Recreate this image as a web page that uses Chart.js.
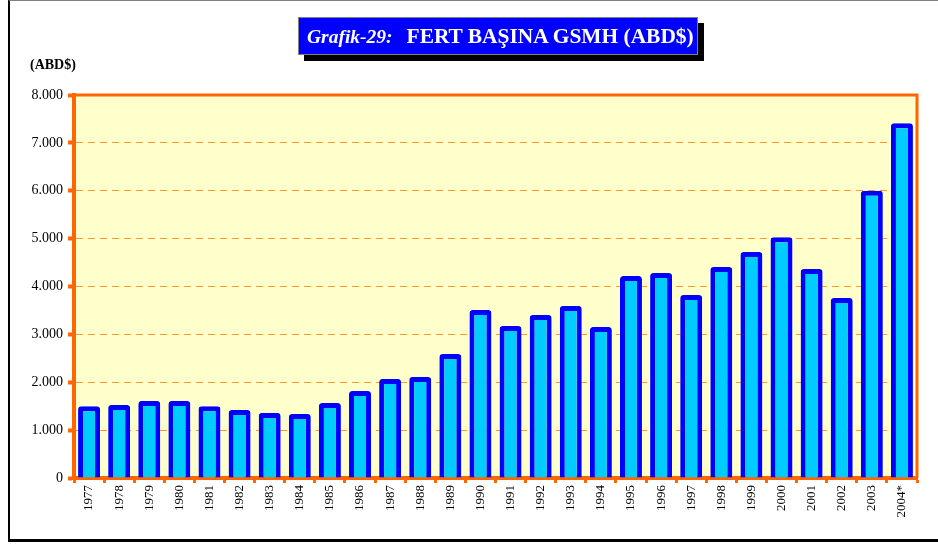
<!DOCTYPE html>
<html>
<head>
<meta charset="utf-8">
<script src="https://cdn.jsdelivr.net/npm/chart.js@4"></script>
<style>
  body { margin: 0; background: #fff; }
  #wrap { position: relative; width: 938px; height: 544px; overflow: hidden; }
  #chart { position: absolute; left: 0; top: 0; }
  #frame {
    position: absolute; left: 8px; top: 0; width: 960px; height: 538px;
    border-left: 2px solid #000; border-bottom: 3px solid #000; border-top: 1px solid #808080;
  }
  #title {
    position: absolute; left: 298px; top: 17px; width: 390px; height: 36px;
    background: #0000FF; border: 1px solid #808080; box-shadow: 6px 6px 0 #000;
    color: #fff; font-family: "Liberation Serif", serif; font-weight: bold;
    white-space: nowrap; line-height: 37px; padding-left: 8px; box-sizing: content-box;
  }
  #title .lead { font-style: italic; font-size: 19.5px; margin-right: 14px; }
  #title .rest { font-size: 21.4px; }
  #unit {
    position: absolute; left: 30px; top: 57px;
    font-family: "Liberation Serif", serif; font-weight: bold; font-size: 14px;
  }
</style>
</head>
<body>
<div id="wrap">
  <div id="frame"></div>
  <canvas id="chart" width="938" height="544"></canvas>
  <div id="title"><span class="lead">Grafik-29:</span><span class="rest">FERT BAŞINA GSMH (ABD$)</span></div>
  <div id="unit">(ABD$)</div>
</div>
<script>
var years = ['1977', '1978', '1979', '1980', '1981', '1982', '1983', '1984', '1985', '1986',
    '1987', '1988', '1989', '1990', '1991', '1992', '1993', '1994', '1995', '1996',
    '1997', '1998', '1999', '2000', '2001', '2002', '2003', '2004*']

var gnpPerCapita = [1500, 1525, 1610, 1610, 1500, 1420, 1360, 1335, 1565, 1815,
    2070, 2110, 2590, 3510, 3175, 3405, 3595, 3155, 4220, 4280,
    3820, 4405, 4720, 5030, 4365, 3760, 6000, 7410]

var yTicks = [0, 1000, 2000, 3000, 4000, 5000, 6000, 7000, 8000]

// yellow plot background and the orange frame on top/right
var plotFrame = {
    id: 'plotFrame',
    beforeDraw: function (chart) {
        var a = chart.chartArea, ctx = chart.ctx
        ctx.save()
        ctx.fillStyle = '#FFFFCC'
        ctx.fillRect(a.left, a.top, a.right - a.left, a.bottom - a.top)
        ctx.restore()
    },
    afterDraw: function (chart) {
        var a = chart.chartArea, ctx = chart.ctx
        ctx.save()
        ctx.strokeStyle = '#FF6600'
        ctx.lineWidth = 3
        ctx.beginPath()
        ctx.moveTo(a.left, a.top)
        ctx.lineTo(a.right, a.top)
        ctx.lineTo(a.right, a.bottom)
        ctx.stroke()
        ctx.restore()
    }
}

new Chart(
    document.getElementById('chart'),
    {
        type: 'bar',
        data: {
            labels: years,
            datasets: [
                {
                    label: 'Fert başına GSMH',
                    backgroundColor: '#00CCFF',
                    borderColor: '#0000FF',
                    borderWidth: 5,
                    borderRadius: 3,
                    barPercentage: 0.73,
                    categoryPercentage: 1,
                    data: gnpPerCapita
                }
            ]
        },
        options: {
            responsive: false,
            animation: false,
            layout: { padding: { top: 95, right: 21, left: 0, bottom: 0 } },
            plugins: {
                legend: { display: false },
                tooltip: { enabled: false }
            },
            scales: {
                x: {
                    afterFit: function (s) { s.height = 66 },
                    border: { color: '#FF6600', width: 4 },
                    grid: {
                        drawOnChartArea: false,
                        drawTicks: true,
                        tickLength: 5,
                        tickWidth: 3,
                        tickColor: '#FF6600'
                    },
                    ticks: {
                        autoSkip: false,
                        minRotation: 90,
                        maxRotation: 90,
                        padding: 2,
                        color: '#000',
                        font: { family: 'Liberation Serif', size: 13 }
                    }
                },
                y: {
                    min: 0,
                    max: 8000,
                    afterFit: function (s) { s.width = 74 },
                    afterBuildTicks: function (s) {
                        s.ticks = yTicks.map(function (v) { return { value: v } })
                    },
                    border: { color: '#FF6600', width: 4, dash: [7, 5] },
                    grid: {
                        color: '#FF9933',
                        lineWidth: 1,
                        tickLength: 6,
                        tickWidth: 4,
                        tickColor: '#FF6600',
                        tickBorderDash: []
                    },
                    ticks: {
                        padding: 5,
                        color: '#000',
                        font: { family: 'Liberation Serif', size: 14 },
                        callback: function (v) {
                            return String(v).replace(/\B(?=(\d{3})+(?!\d))/g, '.')
                        }
                    }
                }
            }
        },
        plugins: [plotFrame]
    }
);
</script>
</body>
</html>
